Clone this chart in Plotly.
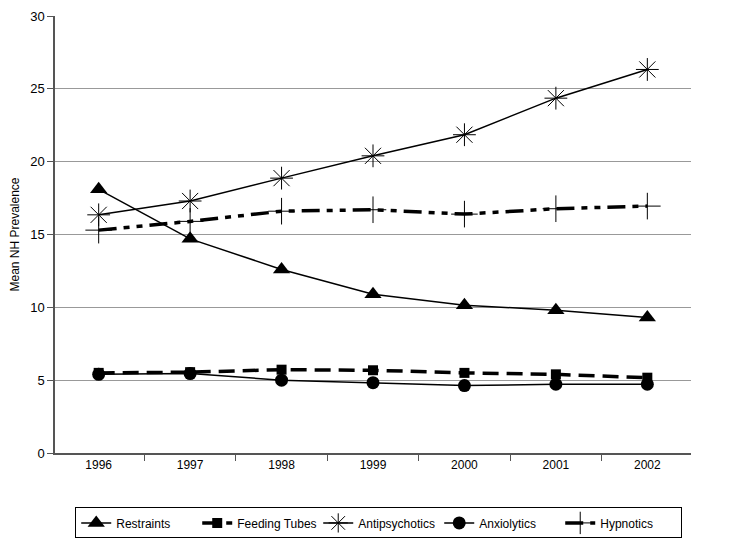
import plotly.graph_objects as go

years = ["1996", "1997", "1998", "1999", "2000", "2001", "2002"]
restraints = [18.1, 14.7, 12.6, 10.9, 10.15, 9.8, 9.3]
feeding_tubes = [5.5, 5.55, 5.72, 5.68, 5.5, 5.4, 5.17]
antipsychotics = [16.35, 17.3, 18.87, 20.4, 21.85, 24.36, 26.33]
anxiolytics = [5.4, 5.45, 5.0, 4.83, 4.63, 4.72, 4.72]
hypnotics = [15.3, 15.9, 16.6, 16.7, 16.4, 16.77, 16.95]

FONT = "Liberation Sans, Arial, sans-serif"

fig = go.Figure()
fig.add_trace(go.Scatter(x=years, y=restraints, name="Restraints", mode="lines+markers",
                         line=dict(color="black", width=1.5),
                         marker=dict(symbol="triangle-up", size=15, color="black")))
fig.add_trace(go.Scatter(x=years, y=feeding_tubes, name="Feeding Tubes", mode="lines+markers",
                         line=dict(color="black", width=3.5, dash="16px,8px"),
                         marker=dict(symbol="square", size=10, color="black")))
fig.add_trace(go.Scatter(x=years, y=antipsychotics, name="Antipsychotics", mode="lines+markers",
                         line=dict(color="black", width=1.5),
                         marker=dict(symbol="asterisk-open", size=19, color="black",
                                     line=dict(color="black", width=1))))
fig.add_trace(go.Scatter(x=years, y=anxiolytics, name="Anxiolytics", mode="lines+markers",
                         line=dict(color="black", width=1.5),
                         marker=dict(symbol="circle", size=13, color="black")))
fig.add_trace(go.Scatter(x=years, y=hypnotics, name="Hypnotics", mode="lines+markers",
                         line=dict(color="black", width=3.5, dash="18px,7px,6px,7px,6px,7px"),
                         marker=dict(symbol="cross-thin-open", size=19, color="black",
                                     line=dict(color="black", width=1))))

fig.update_layout(
    width=729, height=543,
    paper_bgcolor="white", plot_bgcolor="white",
    margin=dict(l=47, r=46, t=8, b=98),
    font=dict(family=FONT, size=12, color="black"),
    showlegend=True,
    legend=dict(orientation="h", x=0.509, xanchor="center", y=-0.16, yanchor="middle",
                bordercolor="black", borderwidth=1, bgcolor="white",
                font=dict(family=FONT, size=12), itemwidth=30, tracegroupgap=0,
                entrywidth=76),
)
fig.update_xaxes(type="category", tickson="boundaries", ticks="outside", ticklen=6,
                 tickcolor="#555", showline=True, linecolor="#555", linewidth=1.5,
                 showgrid=False, tickfont=dict(family=FONT, size=12), automargin=False)
fig.update_yaxes(range=[0, 30], dtick=5, ticks="outside", ticklen=6, tickcolor="#555",
                 showline=True, linecolor="#555", linewidth=1.5, showgrid=True,
                 gridcolor="#999", gridwidth=1, zeroline=False, automargin=False,
                 ticklabeloverflow="allow",
                 title=dict(text="Mean NH Prevalence", font=dict(family=FONT, size=12), standoff=12),
                 tickfont=dict(family=FONT, size=13))

fig.write_html("out.html")
